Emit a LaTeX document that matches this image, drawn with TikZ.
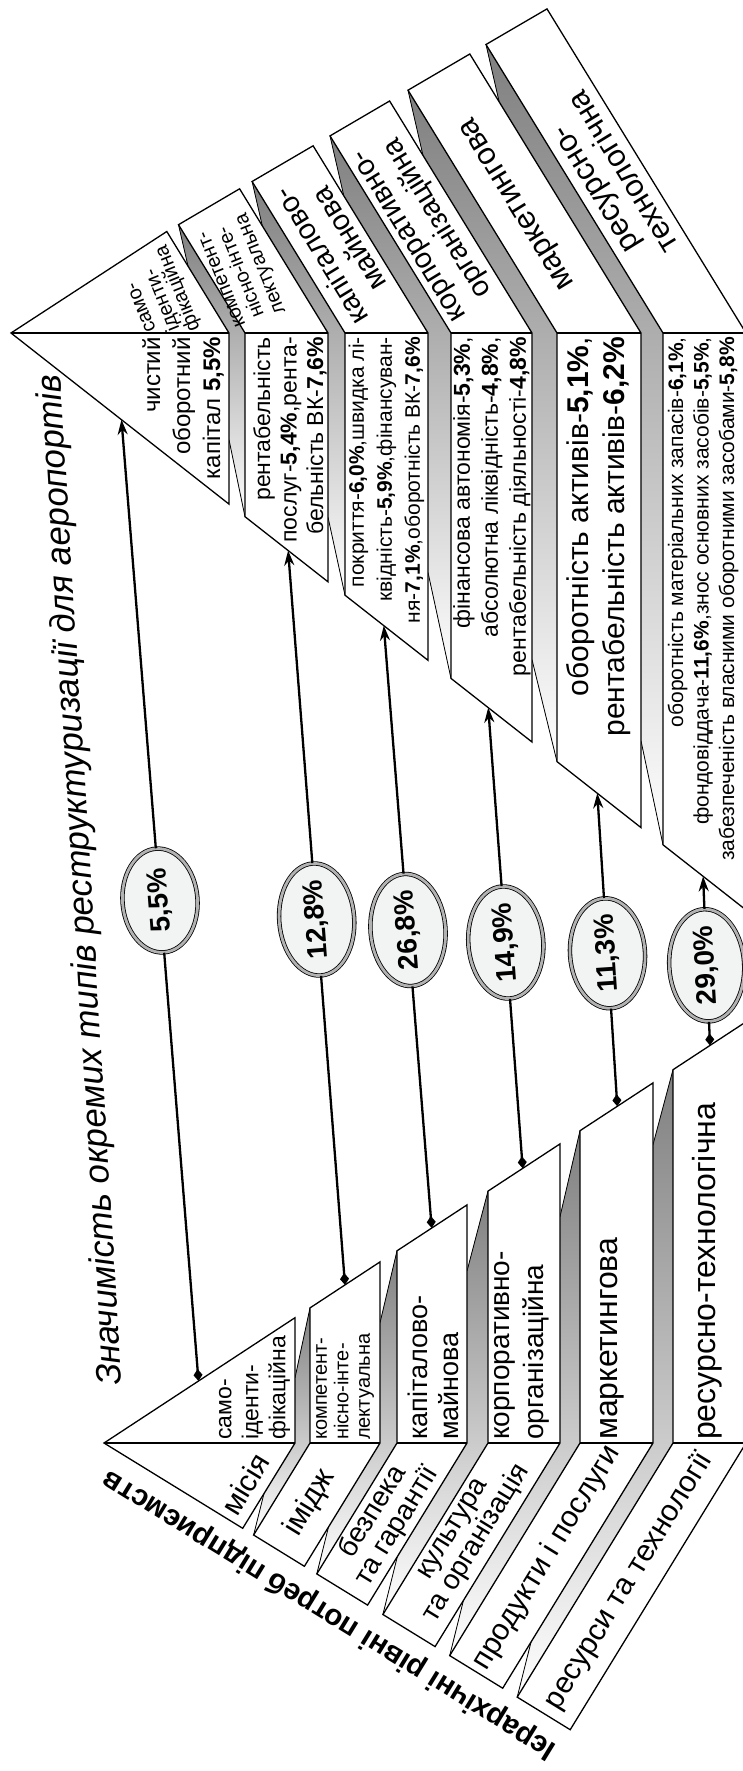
\documentclass[tikz,border=0pt]{standalone}
\usepackage{fontspec}
\setmainfont{Liberation Sans}
\usetikzlibrary{shapes.geometric,arrows.meta}
\definecolor{shade}{RGB}{210,211,213}
\definecolor{ellfill}{RGB}{242,243,243}
\newcommand\myfs[2]{\fontsize{#1}{#2}\selectfont}
\begin{document}
\begin{tikzpicture}[x=1pt,y=-1pt,
  box/.style={draw=black,line width=1.3pt,line join=miter,fill=white},
  edge/.style={draw=black,line width=1.3pt},
  fold/.style={draw=black,line width=0.8pt},
  conn/.style={line width=2.3pt,black},
  ell/.style={ellipse,inner sep=0pt,minimum width=104pt,minimum height=75pt,fill=ellfill,draw=black,line width=0.8pt,double=gray!60,double distance=2.8pt,font={\myfs{28}{30}\bfseries}},
  tname/.style={rotate=121.5,align=center,inner sep=0pt},
  tsmall/.style={rotate=112,anchor=north west,inner sep=0pt,font={\myfs{20}{22}}},
  ind/.style={rotate=90,align=right,anchor=east,inner sep=0pt},
  bname/.style={rotate=90,align=left,anchor=west,inner sep=0pt},
  lvl/.style={rotate=58.5,align=center,inner sep=0pt},
]
\useasboundingbox (0,0) rectangle (743,1771);
\fill[white] (0,0) rectangle (743,1771);

% ---------- grey folds, top pyramid
\fill[shade] (178.5,224.7) -- (188,266) -- (229,333) -- (229,439.7) -- (245,516.7) -- (245,333) -- cycle;
\fill[shade] (252.1,181.5) -- (262.3,225.8) -- (328,333) -- (328,517.2) -- (345,595.2) -- (345,333) -- cycle;
\fill[shade] (330,135.9) -- (343.7,195.3) -- (428,333) -- (428,572.4) -- (451,678.4) -- (451,333) -- cycle;
\fill[shade] (408,90.2) -- (422.9,155.1) -- (532,333) -- (532,659.6) -- (557,761.6) -- (557,333) -- cycle;
\fill[shade] (486,44.5) -- (499.1,101.6) -- (641,333) -- (641,740.8) -- (663,844.8) -- (663,333) -- cycle;
\draw[fold] (178.5,224.7) -- (188,266) (229,439.7) -- (245,516.7);
\draw[fold] (252.1,181.5) -- (262.3,225.8) (328,517.2) -- (345,595.2);
\draw[fold] (330,135.9) -- (343.7,195.3) (428,572.4) -- (451,678.4);
\draw[fold] (408,90.2) -- (422.9,155.1) (532,659.6) -- (557,761.6);
\draw[fold] (486,44.5) -- (499.1,101.6) (641,740.8) -- (663,844.8);

% ---------- grey folds, bottom pyramid
\fill[shade] (310,1307.9) -- (295,1377.9) -- (295,1443) -- (263.9,1493.8) -- (253.6,1535) -- (310,1443) -- cycle;
\fill[shade] (397,1250.8) -- (380,1322.8) -- (380,1443) -- (328.5,1527) -- (316.8,1573.9) -- (397,1443) -- cycle;
\fill[shade] (488,1191.1) -- (467,1271.1) -- (467,1443) -- (397.3,1556.7) -- (382.9,1614.5) -- (488,1443) -- cycle;
\fill[shade] (580,1130.7) -- (560,1216.7) -- (560,1443) -- (463.4,1600.6) -- (449.7,1655.6) -- (580,1443) -- cycle;
\fill[shade] (673,1069.7) -- (653,1144.7) -- (653,1443) -- (531,1642.1) -- (517.2,1697.1) -- (673,1443) -- cycle;
\draw[fold] (310,1307.9) -- (295,1377.9) (263.9,1493.8) -- (253.6,1535);
\draw[fold] (397,1250.8) -- (380,1322.8) (328.5,1527) -- (316.8,1573.9);
\draw[fold] (488,1191.1) -- (467,1271.1) (397.3,1556.7) -- (382.9,1614.5);
\draw[fold] (580,1130.7) -- (560,1216.7) (463.4,1600.6) -- (449.7,1655.6);
\draw[fold] (673,1069.7) -- (653,1144.7) (531,1642.1) -- (517.2,1697.1);

% ---------- boxes, top pyramid
\draw[box] (11,333) -- (166.8,231.5) -- (229,333) -- (229,504.1) -- cycle;
\draw[edge] (11,333) -- (229,333);
\draw[box] (178.5,224.7) -- (239.6,188.8) -- (328,333) -- (328,581.8) -- (245,516.7) -- (245,333) -- cycle;
\draw[edge] (245,333) -- (328,333);
\draw[box] (252.1,181.5) -- (313.1,145.8) -- (428,333) -- (428,660.3) -- (345,595.2) -- (345,333) -- cycle;
\draw[edge] (345,333) -- (428,333);
\draw[box] (330,135.9) -- (389.6,101) -- (532,333) -- (532,742) -- (451,678.4) -- (451,333) -- cycle;
\draw[edge] (451,333) -- (532,333);
\draw[box] (408,90.2) -- (469.8,54) -- (641,333) -- (641,827.6) -- (557,761.6) -- (557,333) -- cycle;
\draw[edge] (557,333) -- (641,333);
\draw[box] (486,44.5) -- (547,8.9) -- (746,333) -- (746,910) -- (663,844.8) -- (663,333) -- cycle;
\draw[edge] (663,333) -- (746,333);

% ---------- boxes, bottom pyramid
\draw[box] (104,1443) -- (295,1317.7) -- (295,1443) -- (242.7,1528.3) -- cycle;
\draw[edge] (104,1443) -- (295,1443);
\draw[box] (310,1307.9) -- (380,1261.9) -- (380,1443) -- (304.4,1566.3) -- (253.6,1535) -- (310,1443) -- cycle;
\draw[edge] (310,1443) -- (380,1443);
\draw[box] (397,1250.8) -- (467,1204.9) -- (467,1443) -- (367.6,1605.1) -- (316.8,1573.9) -- (397,1443) -- cycle;
\draw[edge] (397,1443) -- (467,1443);
\draw[box] (488,1191.1) -- (560,1143.9) -- (560,1443) -- (435.1,1646.6) -- (382.9,1614.5) -- (488,1443) -- cycle;
\draw[edge] (488,1443) -- (560,1443);
\draw[box] (580,1130.7) -- (653,1082.9) -- (653,1443) -- (502.7,1688.2) -- (449.7,1655.6) -- (580,1443) -- cycle;
\draw[edge] (580,1443) -- (653,1443);
\draw[box] (673,1069.7) -- (746,1021.8) -- (746,1443) -- (570.2,1729.7) -- (517.2,1697.1) -- (673,1443) -- cycle;
\draw[edge] (673,1443) -- (746,1443);

% ---------- top pyramid names
\node[tsmall] (tn1a) at (146,334) {само-};
\node[tsmall] (tn1b) at (166,334) {іденти-};
\node[tsmall] (tn1c) at (186,334) {фікаційна};
\node[tname,rotate=-9.5,font={\myfs{20}{21}}] (tn2) at (243,271) {компетент-\\нісно-інте-\\лектуальна};
\node[tname,font={\myfs{29}{33}}] (tn3) at (334.6,248.3) {капіталово-\\майнова};
\node[tname,font={\myfs{29}{34}}] (tn4) at (425.7,225.7) {корпоративно-\\організаційна};
\node[tname,font={\myfs{31}{33}}] (tn5) at (519,202.6) {маркетингова};
\node[tname,font={\myfs{31}{33}}] (tn6) at (610.5,179.9) {ресурсно-\\технологічна};

% ---------- top pyramid indicators
\node[ind,font={\myfs{24}{30}}] (ti1) at (183,337) {чистий\\оборотний\\капітал \textbf{5,5\%}};
\node[ind,font={\myfs{23}{26.5}}] (ti2) at (290,337) {рентабельність\\послуг-\textbf{5,4\%},рента-\\бельність ВК-\textbf{7,6\%}};
\node[ind,font={\myfs{21}{28}}] (ti3) at (386.5,337) {покриття-\textbf{6,0\%},швидка лі-\\квідність-\textbf{5,9\%},фінансуван-\\ня-\textbf{7,1\%},оборотність ВК-\textbf{7,6\%}};
\node[ind,font={\myfs{23}{28}}] (ti4) at (492,337) {фінансова автономія-\textbf{5,3\%},\\абсолютна ліквідність-\textbf{4,8\%},\\рентабельність діяльності-\textbf{4,8\%}};
\node[ind,font={\myfs{30}{36}}] (ti5) at (599,337) {оборотність активів-\textbf{5,1\%},\\рентабельність активів-\textbf{6,2\%}};
\node[ind,font={\myfs{21}{25.5}}] (ti6) at (703,337) {оборотність матеріальних запасів-\textbf{6,1\%},\\фондовіддача-\textbf{11,6\%},знос основних засобів-\textbf{5,5\%},\\забезпеченість власними оборотними засобами-\textbf{5,8\%}};

% ---------- bottom pyramid names
\node[bname,font={\myfs{23}{27}}] (bn1) at (254.6,1440) {само-\\іденти-\\фікаційна};
\node[bname,font={\myfs{20}{21.5}}] (bn2) at (345,1440) {компетент-\\нісно-інте-\\лектуальна};
\node[bname,font={\myfs{27}{31}}] (bn3) at (433,1440) {капіталово-\\майнова};
\node[bname,font={\myfs{28}{34}}] (bn4) at (522,1440) {корпоративно-\\організаційна};
\node[bname,font={\myfs{32}{34}}] (bn5) at (612,1440) {маркетингова};
\node[bname,font={\myfs{32}{34}}] (bn6) at (707,1440) {ресурсно-технологічна};

% ---------- bottom pyramid levels
\node[lvl,font={\myfs{30}{30}}] (lv1) at (245,1484) {місія};
\node[lvl,font={\myfs{30}{30}}] (lv2) at (310,1503) {імідж};
\node[lvl,font={\myfs{28}{28}}] (lv3) at (385,1519) {безпека\\та гарантії};
\node[lvl,font={\myfs{28}{28}}] (lv4) at (466.5,1537) {культура\\та організація};
\node[lvl,font={\myfs{30}{30}}] (lv5) at (547,1558) {продукти і послуги};
\node[lvl,font={\myfs{30}{30}}] (lv6) at (629,1581) {ресурси та технології};

\node[rotate=148.4,inner sep=0pt,font={\myfs{29.5}{32}\bfseries}] (hier) at (329.5,1614.5) {Ієрархічні рівні потреб підприємств};
\node[rotate=93.5,inner sep=0pt,font={\myfs{35}{38}\itshape}] (title) at (82,880) {Значимість окремих типів реструктуризації для аеропортів};

% ---------- connectors
\coordinate (LA) at (11,333);
\coordinate (LB) at (746,910);
\coordinate (s1) at (198.5,1381);
\coordinate (s2) at (345,1284.9);
\coordinate (s3) at (431.7,1228);
\coordinate (s4) at (522.7,1168.3);
\coordinate (s5) at (617.3,1106.3);
\coordinate (s6) at (710,1045.5);
\node[ell,rotate=94.4] (e1) at (160,900.5) {5,5\%};
\node[ell,rotate=94.4] (e2) at (316.7,919.5) {12,8\%};
\node[ell,rotate=94.4] (e3) at (408,930) {26,8\%};
\node[ell,rotate=94.2] (e4) at (505.8,942.5) {14,9\%};
\node[ell,rotate=93.8] (e5) at (607.5,953.3) {11,3\%};
\node[ell,rotate=93.2] (e6) at (706.7,965.3) {29,0\%};
\coordinate (t1) at (intersection of s1--e1.center and LA--LB);
\coordinate (t2) at (intersection of s2--e2.center and LA--LB);
\coordinate (t3) at (intersection of s3--e3.center and LA--LB);
\coordinate (t4) at (intersection of s4--e4.center and LA--LB);
\coordinate (t5) at (intersection of s5--e5.center and LA--LB);
\coordinate (t6) at (intersection of s6--e6.center and LA--LB);
\foreach \i in {1,...,6} {
  \draw[conn,{Diamond[length=12pt,width=9pt]}-] (s\i) -- (e\i);
  \draw[conn,-{Stealth[length=15pt,width=10pt]}] (e\i) -- (t\i);
}
\end{tikzpicture}
\end{document}
